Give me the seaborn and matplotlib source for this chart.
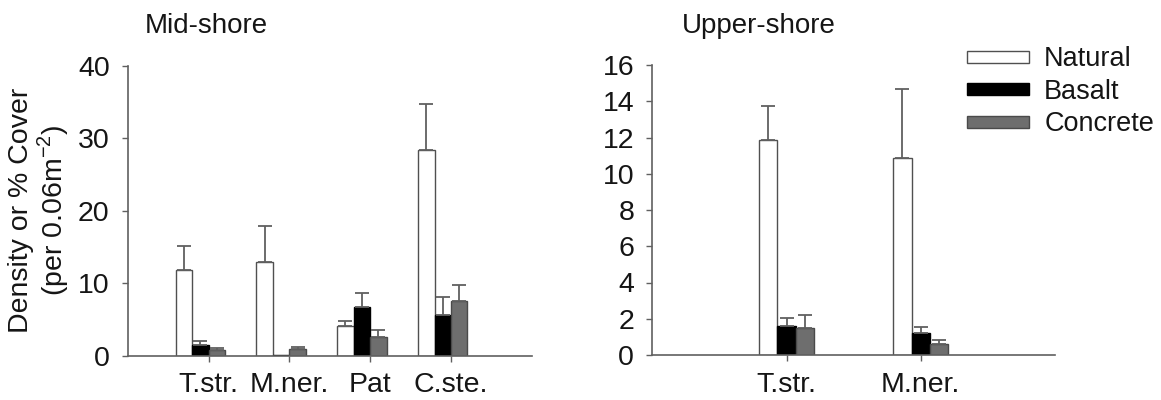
import pandas as pd
import matplotlib
matplotlib.use("Agg")
import matplotlib.pyplot as plt
import seaborn as sns

# substrate groups
substrates = ["Natural", "Basalt", "Concrete"]

# Mid-shore means and standard errors
mid_species = ["T.str.", "M.ner.", "Pat", "C.ste."]
mid_natural = [11.8, 12.9, 4.1, 28.4]
mid_natural_se = [3.4, 5.0, 0.7, 6.4]
mid_basalt = [1.4, 0.15, 6.7, 5.6]
mid_basalt_se = [0.6, 0.0, 1.9, 2.5]
mid_concrete = [0.8, 0.9, 2.6, 7.6]
mid_concrete_se = [0.3, 0.3, 0.9, 2.1]

# Upper-shore
up_species = ["T.str.", "M.ner."]
up_natural = [11.86, 10.89]
up_natural_se = [1.9, 3.77]
up_basalt = [1.6, 1.2]
up_basalt_se = [0.46, 0.33]
up_concrete = [1.47, 0.61]
up_concrete_se = [0.72, 0.22]

face = {"Natural": "white", "Basalt": "black", "Concrete": "#6e6e6e"}
edge = {"Natural": "#505050", "Basalt": "black", "Concrete": "#4a4a4a"}
axis_grey = "#606060"
text_col = "#151515"

sns.set_style("ticks")
plt.rcParams["font.family"] = ["Liberation Sans", "DejaVu Sans"]
plt.rcParams["mathtext.fontset"] = "custom"
plt.rcParams["mathtext.rm"] = "Liberation Sans"
plt.rcParams["font.size"] = 20.5
plt.rcParams["text.color"] = text_col
plt.rcParams["axes.labelcolor"] = text_col
plt.rcParams["xtick.labelcolor"] = text_col
plt.rcParams["ytick.labelcolor"] = text_col


def make_frame(species, natural, basalt, concrete):
    rows = []
    for sub, vals in zip(substrates, [natural, basalt, concrete]):
        for sp, v in zip(species, vals):
            rows.append({"species": sp, "substrate": sub, "mean": v})
    return pd.DataFrame(rows)


def draw_panel(ax, species, values, errors, width, shift):
    df = make_frame(species, *values)
    sns.barplot(data=df, x="species", y="mean", hue="substrate", order=species,
                hue_order=substrates, palette=face, width=width, saturation=1,
                errorbar=None, legend=False, ax=ax)
    for cont, sub, errs in zip(ax.containers, substrates, errors):
        for bar, se in zip(cont, errs):
            bar.set_edgecolor(edge[sub])
            bar.set_linewidth(1.0)
            bar.set_x(bar.get_x() + shift * bar.get_width())
            if se > 0:
                ax.errorbar(bar.get_x() + bar.get_width() / 2, bar.get_height(),
                            yerr=[[0], [se]], fmt="none", ecolor=axis_grey,
                            elinewidth=1.3, capsize=5, capthick=1.3, zorder=5)
    sns.despine(ax=ax)
    for s in ["left", "bottom"]:
        ax.spines[s].set_color(axis_grey)
        ax.spines[s].set_linewidth(1.2)
    ax.tick_params(axis="y", length=4, width=1, color=axis_grey, pad=9)
    ax.tick_params(axis="x", length=4, width=1, color=axis_grey, pad=8)
    ax.set_xlabel("")
    ax.set_ylabel("")


fig = plt.figure(figsize=(11.61, 4.0), dpi=100)
ax1 = fig.add_axes([0.110, 0.111, 0.348, 0.724])
ax2 = fig.add_axes([0.5618, 0.1125, 0.3469, 0.725])

draw_panel(ax1, mid_species, [mid_natural, mid_basalt, mid_concrete],
           [mid_natural_se, mid_basalt_se, mid_concrete_se], 0.61, -0.5)
ax1.set_xlim(-1, 4)
ax1.set_ylim(0, 40)
ax1.set_yticks([0, 10, 20, 30, 40])
ax1.set_ylabel("Density or % Cover\n(per 0.06m$^{-2}$)", linespacing=1.05)
ax1.yaxis.set_label_coords(-0.14, 0.5)
ax1.text(0.043, 1.113, "Mid-shore", transform=ax1.transAxes, ha="left",
         va="baseline", fontsize=20)

draw_panel(ax2, up_species, [up_natural, up_basalt, up_concrete],
           [up_natural_se, up_basalt_se, up_concrete_se], 0.41, 0.0)
ax2.set_xlim(-1, 2)
ax2.set_ylim(0, 16)
ax2.set_yticks(range(0, 17, 2))
ax2.text(0.074, 1.110, "Upper-shore", transform=ax2.transAxes, ha="left",
         va="baseline", fontsize=20)

fig.legend(handles=list(ax2.containers), labels=substrates, loc="upper left",
           bbox_to_anchor=(0.8327, 0.884), frameon=False, borderpad=0,
           borderaxespad=0, handlelength=2.28, handleheight=0.3,
           handletextpad=0.58, labelspacing=0.24, fontsize=19.5)

fig.savefig("out.png", dpi=100)
